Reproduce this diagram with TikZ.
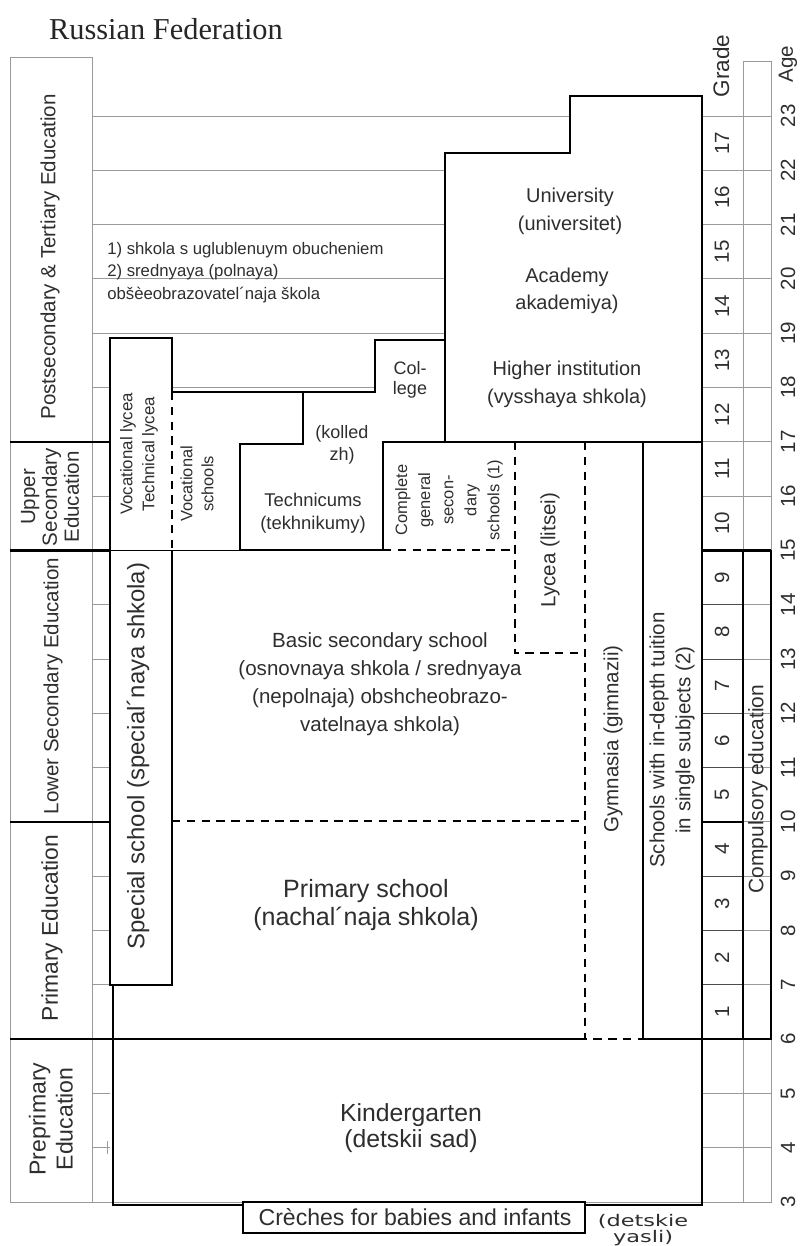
\documentclass[tikz,border=0pt]{standalone}
\usepackage{fontspec}
\setmainfont{Liberation Sans}
\newfontfamily\seriffont{Liberation Serif}
\newfontfamily\widefont{DejaVu Sans}
\usepackage{graphicx}
\usepackage{tikz}
\usetikzlibrary{positioning}
\definecolor{txt}{HTML}{2E2E2E}
\definecolor{rule}{HTML}{9A9A9A}
\newcommand{\fsz}[2]{\fontsize{#1}{#2}\selectfont}
\newcommand{\agey}[1]{1202-(#1-3)*54.3}
\tikzset{
  gridline/.style={draw=rule, line width=0.7pt},
  boxline/.style={draw=black, line width=1.1pt},
  heavy/.style={draw=black, line width=2.1pt},
  dashline/.style={draw=black, line width=1.3pt, dash pattern=on 6pt off 4.5pt},
  lbl/.style={inner sep=0pt, align=center, text=txt, font=\fsz{14.6pt}{19.9pt}},
  vlbl/.style={lbl, rotate=90},
  num/.style={lbl, rotate=90, font=\fsz{14.6pt}{16pt}},
}

\begin{document}
\begin{tikzpicture}[x=0.025cm, y=-0.025cm]
\useasboundingbox (0,0) rectangle (800,1246);

\node[lbl, anchor=base, font=\seriffont\fsz{21.6pt}{24pt}, text=black!85] (title) at (166,40) {Russian Federation};

% grid of ages
\draw[gridline] (10,57) rectangle (92,1202);
\foreach \a in {4,...,18}
  \draw[gridline] (92,{\agey{\a}}) -- (110,{\agey{\a}});
\foreach \a in {19,...,22}
  \draw[gridline] (92,{\agey{\a}}) -- (445,{\agey{\a}});
\draw[gridline] (92,116) -- (570,116);
\draw[gridline] (172,{\agey{18}}) -- (375,{\agey{18}});
\draw[gridline] (10,1202) -- (771,1202);
\draw[gridline] (107,1141) -- (107,1154);

% grade and age columns
\draw[gridline] (743,61) rectangle (771,1202);
\foreach \a in {3,...,23}
  \draw[gridline] (702,{\agey{\a}}) -- (771,{\agey{\a}});
\foreach \a in {7,...,14}
  \draw[draw=black!70, line width=0.6pt] (702,{\agey{\a}}) -- (743,{\agey{\a}});
\draw[boxline] (743,{\agey{15}}) rectangle (771,{\agey{6}});
\draw[boxline] (702,{\agey{10}}) -- (743,{\agey{10}});
\draw[heavy] (702,{\agey{15}}) -- (771,{\agey{15}});

% level dividers
\draw[heavy, line width=1.6pt] (10,{\agey{17}}) -- (110,{\agey{17}});
\draw[heavy] (10,{\agey{15}}) -- (110,{\agey{15}});
\draw[boxline] (110,{\agey{15}}) -- (240,{\agey{15}});
\draw[boxline] (10,{\agey{10}}) -- (110,{\agey{10}});
\draw[boxline] (10,{\agey{6}}) -- (585,{\agey{6}});
\draw[boxline] (643,{\agey{6}}) -- (771,{\agey{6}});

% special school, vocational schools
\draw[boxline] (172,392) -- (172,338) -- (110,338) -- (110,985) -- (172,985) -- (172,550);
\draw[dashline] (172,392) -- (172,550);
\draw[boxline] (172,392) -- (303,392);

% technicums and college
\draw[heavy] (240,550) -- (240,444) -- (303,444) -- (303,392) -- (375,392) -- (375,340)
  -- (445,340) -- (445,442) -- (383,442) -- (383,550) -- cycle;

% higher institutions
\draw[boxline, line width=1.4pt] (445,442) -- (445,153) -- (570,153) -- (570,96) -- (702,96)
  -- (702,1205) -- (585,1205);
\draw[boxline] (445,442) -- (702,442);

% general schools
\draw[dashline] (383,550) -- (515,550);
\draw[dashline] (515,442) -- (515,653) -- (585,653);
\draw[dashline] (585,442) -- (585,1039) -- (643,1039);
\draw[boxline] (643,442) -- (643,1039);
\draw[dashline] (172,821) -- (585,821);

% kindergarten and creches
\draw[boxline] (113,985) -- (113,1205) -- (243,1205);
\draw[boxline] (243,1202) rectangle (585,1233);

% level names
\node[vlbl] (tert) at (50,257) {Postsecondary \& Tertiary Education};
\node[vlbl, font=\fsz{14.6pt}{15.6pt}] (upper) at (50,497) {Upper\\Secondary\\Education};
\node[vlbl] (lower) at (53,686) {Lower Secondary Education};
\node[vlbl, font=\fsz{16.2pt}{18pt}] (prim) at (52,928) {Primary Education};
\node[vlbl, font=\fsz{16.4pt}{19.2pt}] (preprim) at (51,1119) {Preprimary\\Education};

% school types
\node[vlbl, font=\fsz{12pt}{15.6pt}] (voclyc) at (139,454) {Vocational lycea\\Technical lycea};
\node[vlbl, font=\fsz{17pt}{19pt}] (special) at (138,756) {Special school (special´naya shkola)};
\node[vlbl, font=\fsz{11.7pt}{15pt}] (vocsch) at (197,484) {Vocational\\schools};
\node[lbl, font=\fsz{12.8pt}{15.6pt}] (kolledzh) at (342,445) {(kolled\\zh)};
\node[lbl, font=\fsz{13.1pt}{16pt}] (technic) at (313,513) {Technicums\\(tekhnikumy)};
\node[lbl, font=\fsz{12.8pt}{14.5pt}] (college) at (410,380) {Col-\\lege};
\node[vlbl, font=\fsz{11.7pt}{16.4pt}] (complete) at (449,500) {Complete\\general\\secon-\\dary\\schools (1)};
\node[vlbl] (lycea) at (550,550) {Lycea (litsei)};
\node[vlbl] (gymn) at (613,739) {Gymnasia (gimnazii)};
\node[vlbl, font=\fsz{14.6pt}{18.5pt}] (indepth) at (672,740) {Schools with in-depth tuition\\in single subjects (2)};
\node[vlbl, font=\fsz{14.9pt}{16pt}] (compulsory) at (758,789) {Compulsory education};

\node[lbl, font=\fsz{14.2pt}{19.9pt}] (univ) at (570,211) {University\\(universitet)};
\node[lbl, font=\fsz{14.2pt}{19.2pt}] (acad) at (567,291) {Academy\\akademiya)};
\node[lbl, font=\fsz{14.2pt}{19.9pt}] (higher) at (567,384) {Higher institution\\(vysshaya shkola)};
\node[lbl, anchor=north west, align=left, font=\fsz{11.9pt}{16pt}] (notes) at (107,242)
  {1) shkola s uglublenuym obucheniem\\2) srednyaya (polnaya)\\obšèeobrazovatel´naja škola};

\node[lbl] (basic) at (380,684) {Basic secondary school\\(osnovnaya shkola / srednyaya\\(nepolnaja) obshcheobrazo-\\vatelnaya shkola)};
\node[lbl, font=\fsz{17.8pt}{19.9pt}] (primary) at (366,905) {Primary school\\(nachal´naja shkola)};
\node[lbl, font=\fsz{17.6pt}{18.8pt}] (kinder) at (411,1128) {Kindergarten\\(detskii sad)};
\node[lbl, anchor=base, font=\fsz{16.4pt}{18pt}] (creche) at (415,1225) {Crèches for babies and infants};
\node[lbl, anchor=north, font=\widefont\fsz{11.4pt}{11.4pt}] (yasli) at (643,1214)
  {\scalebox{1.4}[1]{(detskie}\\\scalebox{1.4}[1]{yasli)}};

% grades and ages
\foreach \g in {1,...,17}
  \node[num] (g\g) at (722,{\agey{\g+5.5}}) {\g};
\foreach \a in {3,...,23}
  \node[num] (a\a) at (788,{\agey{\a}}) {\a};
\node[num, font=\fsz{16pt}{16pt}] (grade) at (721,66) {Grade};
\node[num] (age) at (788,64) {Age};
\end{tikzpicture}
\end{document}
